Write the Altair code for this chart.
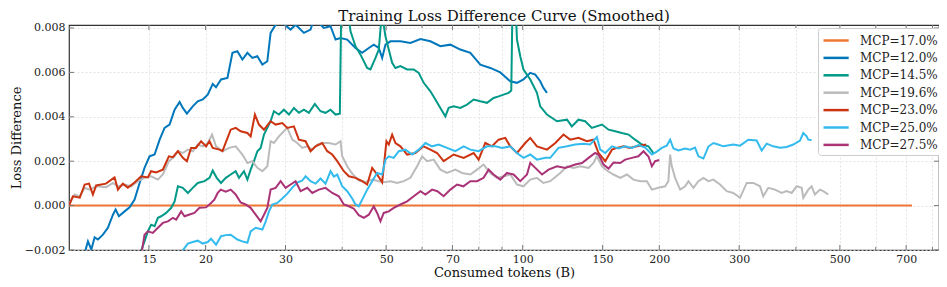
import altair as alt
import pandas as pd

TITLE = "Training Loss Difference Curve (Smoothed)"
X_TITLE = "Consumed tokens (B)"
Y_TITLE = "Loss Difference"
LABELS = ["MCP=17.0%", "MCP=12.0%", "MCP=14.5%", "MCP=19.6%", "MCP=23.0%", "MCP=25.0%", "MCP=27.5%"]
COLORS = ["#EE7733", "#0077BB", "#009988", "#BBBBBB", "#CC3311", "#33BBEE", "#AA3377"]
X_MAJOR = [15, 20, 30, 50, 70, 100, 150, 200, 300, 500, 700]
X_MINOR = [40, 60, 80, 90, 400, 600, 800]
Y_TICKS = [-0.002, 0.0, 0.002, 0.004, 0.006, 0.008]
X_DOMAIN = [10, 827]
Y_DOMAIN = [-0.002, 0.008135]

MCP_170 = [(10.0, 0.0), (721.0, 0.0)]

MCP_120 = [(10.85,-0.00207),(11.01,-0.00161),(11.2,-0.00198),(11.39,-0.00143),(11.58,-0.00153),(11.88,-0.00131),
           (12.18,-0.001),(12.5,-0.00041),(12.67,-0.00018),(12.88,-0.00048),(13.26,-0.00026),(13.6,-0.00008),
           (13.95,0.00027),(14.31,0.00102),(14.67,0.0017),(15.05,0.00222),(15.44,0.0023),(15.84,0.00297),
           (16.24,0.0035),(16.66,0.00365),(17.09,0.00432),(17.53,0.00467),(17.82,0.0044),(18.19,0.00414),
           (18.74,0.00447),(19.22,0.0047),(19.72,0.00478),(20.22,0.005),(20.74,0.00548),(21.09,0.00533),
           (21.63,0.00568),(22.35,0.00575),(22.92,0.00688),(23.5,0.00695),(24.11,0.00658),(24.73,0.00688),
           (25.36,0.00665),(26.01,0.00673),(26.68,0.00635),(27.36,0.0065),(27.82,0.00778),(28.54,0.00815),
           (29.52,0.00823),(30.79,0.00793),(31.58,0.00815),(32.94,0.00778),(34.07,0.00793),(34.65,0.00838),
           (35.54,0.00823),(36.45,0.008),(37.71,0.00808),(38.68,0.00748),(39.67,0.00755),(41.04,0.00748),
           (42.8,0.0071),(44.28,0.00688),(45.79,0.0071),(46.96,0.00725),(48.17,0.0071),(49.0,0.00665),
           (49.83,0.00725),(51.11,0.0074),(53.76,0.0074),(56.56,0.00733),(59.5,0.0075),(62.59,0.0074),
           (65.84,0.00718),(69.27,0.00725),(72.87,0.00703),(76.66,0.00688),(80.64,0.00635),(84.83,0.0062),
           (89.24,0.006),(93.88,0.0056),(97.12,0.00553),(100.4,0.00568),(103.9,0.00598),(106.6,0.0059),
           (109.3,0.0056),(111.1,0.0053),(113.1,0.00508)]

MCP_145 = [(14.4,-0.00207),(14.67,-0.00161),(14.92,-0.00116),(15.17,-0.00086),(15.44,-0.00093),(15.7,-0.00055),
           (15.96,-0.00048),(16.37,-0.00033),(16.8,-0.0001),(17.09,0.00019),(17.38,0.00087),(17.82,0.0008),
           (18.28,0.00057),(18.74,0.0008),(19.22,0.00102),(19.89,0.0011),(20.4,0.00125),(20.74,0.00158),
           (21.16,0.00125),(21.63,0.00102),(22.16,0.00125),(22.72,0.0014),(23.3,0.00155),(23.7,0.00125),
           (24.3,0.00155),(24.73,0.00117),(25.14,0.00162),(25.57,0.002),(26.01,0.00245),(26.45,0.0026),
           (26.9,0.0032),(27.36,0.0035),(27.82,0.0038),(28.29,0.00425),(29.02,0.0041),(29.76,0.00432),
           (30.53,0.0041),(31.31,0.0044),(32.11,0.00418),(32.94,0.00432),(33.78,0.00418),(34.82,0.00458),
           (35.84,0.00425),(36.76,0.00418),(37.71,0.00432),(38.68,0.0041),(39.53,0.00414),(39.77,0.00815),
           (40.07,0.00906),(40.69,0.00928),(41.31,0.0086),(41.73,0.00785),(42.8,0.00718),(43.9,0.0068),
           (45.41,0.0062),(46.18,0.00613),(47.37,0.00665),(48.17,0.00703),(48.65,0.00808),(49.15,0.0084),
           (49.83,0.00763),(50.67,0.00703),(51.55,0.00643),(52.42,0.0062),(53.76,0.00628),(55.62,0.00613),
           (57.52,0.00613),(58.99,0.00598),(60.51,0.00553),(62.59,0.00515),(64.2,0.00478),(65.84,0.0044),
           (67.53,0.00402),(68.67,0.0044),(70.44,0.00447),(72.87,0.0044),(75.38,0.00455),(77.96,0.00478),
           (80.64,0.0047),(83.42,0.00463),(86.26,0.00485),(88.48,0.00492),(90.75,0.005),(93.08,0.00508),
           (94.36,0.00518),(94.84,0.00838),(95.55,0.00928),(96.53,0.00883),(97.12,0.00748),(98.76,0.00673),
           (100.4,0.00613),(103.9,0.00568),(107.5,0.00508),(109.3,0.00447),(113.1,0.0041),(119.0,0.0038),
           (125.2,0.00387),(128.3,0.00357),(132.7,0.00387),(137.3,0.0038),(142.0,0.0035),(149.5,0.00365),
           (154.6,0.00342),(159.9,0.00335),(165.4,0.00327),(171.1,0.0032),(176.9,0.00297),(183.1,0.00275),
           (189.3,0.00267),(194.1,0.00237)]

MCP_196 = [(10.03,0.00012),(10.29,0.0005),(10.56,0.00041),(10.83,0.0008),(11.11,0.00072),(11.48,0.00087),
           (12.08,0.00083),(12.5,0.00102),(12.82,0.00086),(13.26,0.00095),(13.71,0.00087),(14.18,0.0011),
           (14.67,0.00125),(15.17,0.00132),(15.7,0.00117),(16.1,0.0014),(16.6,0.002),(17.09,0.00222),
           (17.38,0.00245),(17.82,0.00237),(18.28,0.00252),(18.74,0.00245),(19.22,0.00275),(19.72,0.00267),
           (20.22,0.00282),(20.67,0.0032),(21.09,0.00267),(21.79,0.00245),(22.53,0.0026),(23.3,0.00267),
           (24.11,0.0023),(24.73,0.00192),(25.36,0.002),(26.01,0.0017),(26.68,0.00155),(27.36,0.00177),
           (27.82,0.0029),(28.29,0.00282),(29.02,0.00312),(29.76,0.00335),(30.28,0.0035),(31.06,0.00297),
           (31.85,0.00282),(32.67,0.0026),(33.51,0.00267),(34.37,0.00252),(35.25,0.00275),(36.15,0.00282),
           (37.38,0.00282),(38.68,0.00275),(39.67,0.0029),(40.01,0.00222),(41.04,0.00177),(42.09,0.00144),
           (43.52,0.00113),(45.03,0.00106),(46.58,0.00117),(48.17,0.0011),(49.4,0.00105),(51.11,0.0011),
           (52.87,0.00102),(54.67,0.0011),(56.56,0.00125),(58.51,0.00177),(60.02,0.00222),(61.55,0.002),
           (63.65,0.00207),(65.84,0.00162),(68.11,0.00147),(71.05,0.00162),(73.5,0.00147),(76.66,0.0014),
           (79.3,0.00162),(82.0,0.00185),(84.83,0.00147),(87.76,0.00125),(90.75,0.00132),(93.88,0.0014),
           (97.12,0.00095),(100.4,0.00087),(103.9,0.00117),(107.5,0.00125),(111.1,0.00102),(115.0,0.0011),
           (121.0,0.00147),(125.2,0.00177),(129.4,0.0017),(133.9,0.00177),(139.7,0.0017),(143.2,0.00192),
           (145.7,0.00222),(149.5,0.00177),(153.3,0.00158),(158.5,0.0014),(164.0,0.00125),(169.7,0.0014),
           (175.4,0.00117),(181.5,0.0011),(187.8,0.0011),(192.6,0.00072),(199.1,0.0008),(206.0,0.00087),
           (209.4,0.0011),(211.3,0.0023),(213.1,0.00177),(216.7,0.00125),(222.3,0.00072),(228.0,0.00087),
           (231.9,0.0011),(237.8,0.0008),(243.9,0.0011),(250.2,0.00125),(256.6,0.0011),(263.2,0.00117),
           (272.2,0.00095),(281.6,0.00065),(291.2,0.00057),(301.3,0.00035),(311.7,0.00102),(322.3,0.00102),
           (333.4,0.00087),(339.0,0.00042),(347.7,0.0008),(359.8,0.00072),(372.2,0.00057),(381.7,0.00065),
           (391.6,0.00057),(401.6,0.00087),(412.0,0.0008),(415.3,0.00035),(426.0,0.00072),(433.3,0.00087),
           (440.6,0.0005),(452.0,0.00072),(459.6,0.00065),(471.4,0.0005)]

MCP_230 = [(10.0,0.0),(10.2,0.00042),(10.56,0.00036),(10.83,0.00095),(11.07,0.00099),(11.29,0.0005),
           (11.48,0.00091),(12.06,0.00099),(12.6,0.00127),(12.82,0.00072),(13.14,0.00099),(13.48,0.00081),
           (13.95,0.00104),(14.42,0.00132),(14.92,0.00127),(15.17,0.00155),(15.56,0.00149),(16.1,0.00162),
           (16.6,0.00222),(16.94,0.00218),(17.38,0.00245),(17.82,0.00215),(18.19,0.002),(18.58,0.0026),
           (19.05,0.0026),(19.55,0.0029),(20.05,0.00267),(20.4,0.0029),(20.74,0.0026),(21.46,0.00252),
           (21.79,0.00245),(22.72,0.00342),(23.3,0.0035),(23.9,0.00335),(24.73,0.00327),(25.14,0.00312),
           (25.69,0.0041),(26.22,0.00365),(26.9,0.00342),(27.82,0.0038),(28.54,0.00365),(29.52,0.00372),
           (30.28,0.0035),(31.31,0.00357),(32.11,0.00297),(33.22,0.0029),(34.07,0.00245),(34.95,0.00267),
           (36.15,0.00282),(37.08,0.00245),(38.04,0.0023),(39.01,0.002),(40.34,0.00155),(41.38,0.00132),
           (42.8,0.00125),(44.28,0.0011),(45.41,0.00095),(46.58,0.0017),(47.77,0.0014),(49.0,0.00105),
           (50.08,0.0029),(50.67,0.00275),(51.55,0.0032),(52.42,0.00282),(53.76,0.00267),(55.62,0.0023),
           (58.01,0.00237),(60.51,0.00267),(62.59,0.00252),(64.76,0.00237),(66.95,0.002),(70.44,0.0023),
           (74.1,0.00215),(77.96,0.00237),(79.96,0.00207),(82.71,0.00282),(85.57,0.00267),(88.48,0.00297),
           (91.53,0.00305),(93.88,0.00267),(97.12,0.00237),(101.3,0.00282),(103.9,0.00305),(107.5,0.00267),
           (113.1,0.00252),(118.0,0.00282),(123.0,0.0032),(127.2,0.00297),(132.7,0.00305),(138.5,0.0029),
           (143.2,0.00297),(146.9,0.00237),(152.0,0.002),(157.3,0.00252),(161.3,0.0026),(166.8,0.00267),
           (172.1,0.0026),(178.5,0.00267),(187.1,0.00275)]

MCP_250 = [(17.73,-0.00207),(18.0,-0.00189),(18.28,-0.00171),(18.74,-0.00164),(19.22,-0.00158),(19.72,-0.00171),
           (20.22,-0.00164),(20.56,-0.00149),(21.09,-0.00176),(21.63,-0.00138),(22.16,-0.00133),(22.72,-0.00131),
           (23.5,-0.00153),(24.11,-0.00161),(24.73,-0.00167),(25.14,-0.00116),(25.79,-0.001),(26.68,-0.00108),
           (27.13,-0.00072),(27.59,-0.00026),(28.06,0.00005),(28.78,0.00012),(29.52,0.00032),(30.28,0.00054),
           (31.06,0.00081),(31.85,0.00104),(32.67,0.00113),(33.22,0.00132),(34.07,0.0011),(34.95,0.00099),
           (35.84,0.00122),(36.76,0.00099),(37.71,0.00155),(38.35,0.00131),(39.01,0.0014),(40.01,0.00087),
           (41.04,0.00065),(42.09,0.00032),(42.8,0.00005),(43.52,-0.00003),(44.28,0.00027),(45.41,0.00072),
           (46.58,0.0011),(47.77,0.00147),(49.0,0.0014),(49.83,0.00207),(50.67,0.00222),(51.97,0.00215),
           (53.31,0.00245),(55.14,0.00252),(57.05,0.0023),(58.99,0.00252),(61.03,0.00282),(63.13,0.00267),
           (65.28,0.00275),(68.11,0.0026),(71.05,0.00245),(74.1,0.00267),(76.66,0.00252),(79.96,0.00245),
           (83.42,0.00267),(87.01,0.00267),(90.02,0.0026),(93.88,0.00267),(97.12,0.00237),(100.4,0.00215),
           (103.9,0.0023),(107.5,0.00207),(112.1,0.00215),(115.0,0.00215),(119.9,0.0026),(125.2,0.00267),
           (130.5,0.00275),(136.2,0.00279),(140.8,0.00275),(145.7,0.00309),(148.2,0.00252),(152.0,0.00237),
           (157.3,0.00267),(162.6,0.00257),(168.2,0.00267),(174.0,0.0026),(179.9,0.00273),(186.2,0.00261),
           (192.6,0.0023),(197.5,0.00243),(202.5,0.0026),(207.7,0.0027),(211.3,0.00297),(214.9,0.00257),
           (220.4,0.00248),(228.0,0.00257),(233.8,0.00252),(239.8,0.00261),(243.9,0.00222),(250.2,0.00212),
           (256.6,0.00266),(263.2,0.00282),(269.5,0.00275),(276.8,0.00267),(291.2,0.00275),(301.3,0.0027),
           (314.2,0.00297),(327.8,0.00293),(336.3,0.00248),(344.9,0.00279),(356.7,0.00267),(369.0,0.00261),
           (381.7,0.00264),(394.8,0.00275),(408.4,0.00293),(415.3,0.00327),(422.5,0.00312),(426.0,0.00297),
           (433.3,0.00295)]

MCP_275 = [(14.47,-0.00207),(14.67,-0.00131),(14.92,-0.00116),(15.3,-0.00123),(15.7,-0.001),(16.1,-0.00078),
           (16.52,-0.00071),(16.94,-0.00055),(17.23,-0.00063),(17.67,-0.00026),(17.97,-0.00048),(18.44,-0.0004),
           (18.9,-0.00033),(19.39,-0.0001),(20.05,-0.00008),(20.56,0.00012),(20.91,0.00027),(21.27,0.00057),
           (21.6,0.00072),(22.16,0.00063),(22.72,0.00072),(23.3,0.0005),(23.9,0.00014),(24.51,0.00005),
           (25.14,-0.0001),(25.79,-0.00041),(26.45,-0.00071),(26.9,-0.00041),(27.36,-0.0001),(27.82,0.00072),
           (28.54,0.0008),(29.27,0.0011),(30.02,0.0008),(30.79,0.00095),(31.58,0.0011),(32.39,0.00065),
           (33.51,0.0008),(34.37,0.00057),(35.54,0.00072),(36.76,0.0008),(38.04,0.00057),(39.33,0.00042),
           (40.34,0.00005),(41.38,-0.00003),(42.44,-0.00014),(43.52,-0.00043),(44.64,-0.00055),(45.79,-0.00041),
           (46.96,-0.00003),(47.77,-0.00033),(48.58,-0.00071),(49.4,-0.00033),(50.67,-0.00026),(51.97,-0.0001),
           (53.76,0.00005),(55.62,0.00019),(57.52,0.00042),(59.5,0.00065),(61.03,0.0005),(63.13,0.00072),
           (64.85,0.00065),(66.95,0.00042),(69.27,0.00072),(71.66,0.00095),(73.98,0.00087),(76.66,0.0011),
           (79.3,0.0011),(82.0,0.00125),(84.11,0.00162),(86.26,0.0014),(89.24,0.00117),(92.32,0.00147),
           (95.47,0.0014),(98.76,0.0011),(102.2,0.0014),(103.9,0.00192),(106.6,0.0017),(110.3,0.0014),
           (114.0,0.00162),(119.0,0.00177),(124.1,0.0017),(130.5,0.00185),(135.1,0.00192),(139.7,0.00215),
           (144.4,0.00237),(146.9,0.0023),(150.7,0.00185),(154.6,0.00167),(158.5,0.00194),(164.0,0.00192),
           (168.2,0.00207),(174.0,0.00215),(179.9,0.00222),(184.6,0.00245),(189.3,0.00221),(192.6,0.00177),
           (195.8,0.002),(200.0,0.00205)]

SERIES = [MCP_170, MCP_120, MCP_145, MCP_196, MCP_230, MCP_250, MCP_275]

W, H = 870, 225
FONT = "DejaVu Serif"

x_scale = alt.Scale(type="log", domain=X_DOMAIN, nice=False)
y_scale = alt.Scale(domain=Y_DOMAIN, nice=False, zero=False)
shown = "indexof([" + ",".join(str(v) for v in X_MAJOR) + "], datum.value) >= 0"
x_axis = alt.Axis(values=X_MAJOR + X_MINOR, labelExpr=shown + " ? format(datum.value, 'd') : ''",
                  grid=True, ticks=False, domain=False, labelPadding=3, titlePadding=2,
                  labelOverlap=False, labelFlush=False)
y_axis = alt.Axis(values=Y_TICKS, format=".3f", grid=True, ticks=False, domain=False,
                  labelPadding=4, titlePadding=1)

X_ENC = alt.X("x:Q", scale=x_scale, axis=x_axis, title=X_TITLE)
Y_ENC = alt.Y("y:Q", scale=y_scale, axis=y_axis, title=Y_TITLE)
C_ENC = alt.Color("series:N", scale=alt.Scale(domain=LABELS, range=COLORS),
                  legend=alt.Legend(title=None, orient="none", legendX=749, legendY=3,
                                    symbolType="M-1,0H2.6", symbolSize=196, symbolStrokeWidth=2.5,
                                    labelOffset=21, labelFont=FONT, labelFontSize=12, labelColor="#222",
                                    fillColor="white", strokeColor="#cccccc", cornerRadius=3,
                                    padding=4, rowPadding=2.4, labelLimit=200))

layers = []
for label, pts in zip(LABELS, SERIES):
    df = pd.DataFrame(pts, columns=["x", "y"])
    df["series"] = label
    layers.append(alt.Chart(df).mark_line(strokeWidth=2, clip=True).encode(x=X_ENC, y=Y_ENC, color=C_ENC))

# inward tick marks on all four sides
xmaj = pd.DataFrame({"x": X_MAJOR})
xmin = pd.DataFrame({"x": X_MINOR})
yt = pd.DataFrame({"y": Y_TICKS})
tick_color = "#777777"
layers += [
    alt.Chart(xmaj).mark_rule(color=tick_color, strokeWidth=1).encode(x=X_ENC, y=alt.value(H), y2=alt.value(H - 5)),
    alt.Chart(xmaj).mark_rule(color=tick_color, strokeWidth=1).encode(x=X_ENC, y=alt.value(0), y2=alt.value(5)),
    alt.Chart(xmin).mark_rule(color=tick_color, strokeWidth=1).encode(x=X_ENC, y=alt.value(H), y2=alt.value(H - 3)),
    alt.Chart(xmin).mark_rule(color=tick_color, strokeWidth=1).encode(x=X_ENC, y=alt.value(0), y2=alt.value(3)),
    alt.Chart(yt).mark_rule(color=tick_color, strokeWidth=1).encode(y=Y_ENC, x=alt.value(0), x2=alt.value(5)),
    alt.Chart(yt).mark_rule(color=tick_color, strokeWidth=1).encode(y=Y_ENC, x=alt.value(W), x2=alt.value(W - 5)),
]

chart = alt.layer(*layers).properties(
    width=W, height=H,
    title=alt.TitleParams(TITLE, font=FONT, fontSize=15, fontWeight="normal", color="#111111",
                          anchor="middle", offset=1, dy=3),
    autosize=alt.AutoSizeParams(type="none"),
    padding={"left": 61, "top": 17, "right": 0, "bottom": 29},
).configure_view(stroke="#333333", strokeWidth=1.2).configure_axis(
    labelFont=FONT, labelFontSize=11, labelColor="#222222",
    titleFont=FONT, titleFontSize=13, titleFontWeight="normal", titleColor="#111111",
    gridColor="#dddddd", gridDash=[2, 2], gridWidth=0.8,
)

chart.save("out.html", embed_options={"renderer": "svg", "actions": False})
